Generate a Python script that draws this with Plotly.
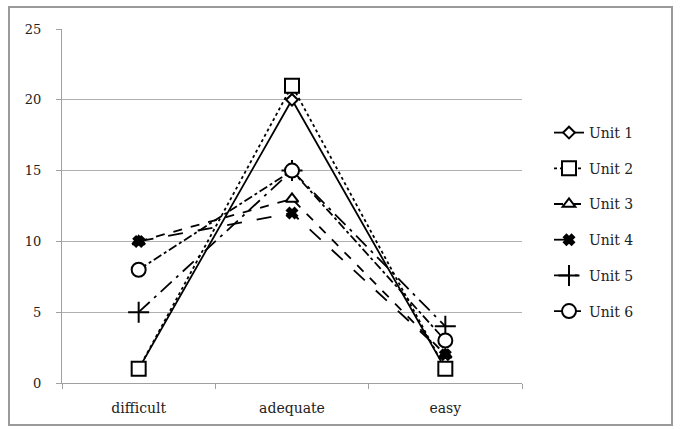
import plotly.graph_objects as go

categories = ["difficult", "adequate", "easy"]
unit_names = ["Unit 1", "Unit 2", "Unit 3", "Unit 4", "Unit 5", "Unit 6"]
unit1 = [1, 20, 1]
unit2 = [1, 21, 1]
unit3 = [10, 13, 2]
unit4 = [10, 12, 2]
unit5 = [5, 15, 4]
unit6 = [8, 15, 3]
y_ticks = [0, 5, 10, 15, 20, 25]

series = [unit1, unit2, unit3, unit4, unit5, unit6]
dashes = ["solid", "dot", "dash", "longdash", "longdashdot", "dashdot"]
symbols = ["diamond", "square", "triangle-up", "x", "cross-thin", "circle"]
sizes = [9, 14, 11, 9, 15, 14]

fig = go.Figure()
for name, vals, dash, sym, sz in zip(unit_names, series, dashes, symbols, sizes):
    filled = sym == "x"
    fig.add_trace(go.Scatter(
        x=categories, y=vals, name=name, mode="lines+markers",
        legendgroup=name,
        line=dict(color="black", width=1.8, dash=dash),
        marker=dict(symbol=sym, size=sz,
                    color="black" if filled else "white",
                    line=dict(color="black", width=2)),
    ))

# outer chart frame
L, R, T, B = 62, 158, 29, 46
W, H = 680 - L - R, 429 - T - B
fig.add_shape(type="rect", xref="paper", yref="paper",
              x0=(9 - L) / W, x1=(672 - L) / W,
              y0=-(425 - (429 - B)) / H, y1=(429 - B - 7) / H,
              line=dict(color="#9a9a9a", width=2), layer="below")

fig.update_layout(
    width=680, height=429,
    margin=dict(l=L, r=R, t=T, b=B),
    paper_bgcolor="white", plot_bgcolor="white",
    font=dict(family="DejaVu Serif", size=14, color="#222222"),
    showlegend=True,
    legend=dict(x=(549 - L) / W, y=(383 - 117) / H, xanchor="left", yanchor="top",
                tracegroupgap=14.5, font=dict(size=14), bgcolor="rgba(0,0,0,0)"),
    xaxis=dict(type="category", range=[-0.5, 2.5], showgrid=False,
               showline=True, linecolor="#a0a0a0", linewidth=1,
               ticks="outside", tickson="boundaries", ticklen=5, tickcolor="#a0a0a0",
               ticklabelstandoff=12),
    yaxis=dict(range=[0, 25], tickvals=y_ticks, showgrid=True, gridcolor="#b0b0b0",
               gridwidth=1, showline=True, linecolor="#a0a0a0", linewidth=1,
               ticks="outside", ticklen=5, tickcolor="#a0a0a0",
               ticklabelstandoff=12, zeroline=False, tickfont=dict(size=13)),
)

fig.write_html("out.html")
